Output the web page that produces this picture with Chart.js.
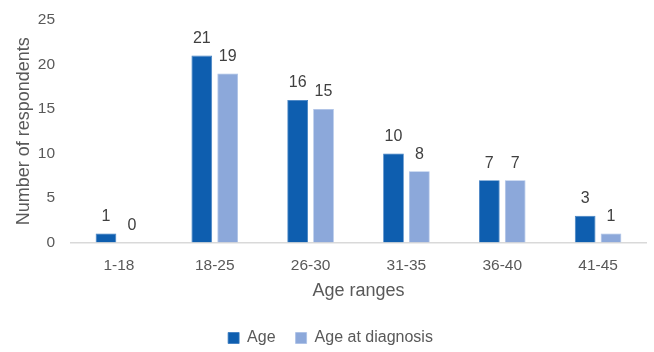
<!DOCTYPE html>
<html>
<head>
<meta charset="utf-8">
<script src="https://cdn.jsdelivr.net/npm/chart.js@4"></script>
<style>
  html, body { margin: 0; padding: 0; background: #fff; }
  #wrap { width: 654px; height: 352px; position: relative; }
</style>
</head>
<body>
<div id="wrap"><canvas id="c" width="654" height="352"></canvas></div>
<script>
const categories = ['1-18', '18-25', '26-30', '31-35', '36-40', '41-45'];
const ageValues = [1, 21, 16, 10, 7, 3];
const diagnosisValues = [0, 19, 15, 8, 7, 1];
const yTicks = [0, 5, 10, 15, 20, 25];

const FONT = "'Liberation Sans', Arial, sans-serif";

// Writes each bar's value just above its top
const valueLabels = {
  id: 'valueLabels',
  afterDatasetsDraw(chart) {
    const ctx = chart.ctx;
    ctx.save();
    ctx.font = '16px ' + FONT;
    ctx.fillStyle = '#404040';
    ctx.textAlign = 'center';
    ctx.textBaseline = 'middle';
    chart.data.datasets.forEach((ds, i) => {
      chart.getDatasetMeta(i).data.forEach((bar, j) => {
        ctx.fillText(String(ds.data[j]), bar.x, bar.y - 17);
      });
    });
    ctx.restore();
  }
};

new Chart(document.getElementById('c'), {
  type: 'bar',
  data: {
    labels: categories,
    datasets: [
      { label: 'Age', data: ageValues, backgroundColor: '#0E5EAF', borderColor: '#3A7BC0', borderWidth: 0.8 },
      { label: 'Age at diagnosis', data: diagnosisValues, backgroundColor: '#8CA8DA', borderColor: '#A9BFE6', borderWidth: 0.8 }
    ]
  },
  options: {
    responsive: false,
    animation: false,
    categoryPercentage: 0.54,
    barPercentage: 0.8,
    layout: { padding: { top: 20, right: 8, left: 15, bottom: -4 } },
    plugins: {
      legend: {
        position: 'bottom',
        labels: {
          font: { family: FONT, size: 16 },
          color: '#595959',
          boxWidth: 11,
          boxHeight: 11,
          padding: 20
        }
      },
      tooltip: { enabled: false }
    },
    scales: {
      x: {
        grid: { display: false, drawTicks: false },
        border: { color: '#D9D9D9', width: 1.5 },
        ticks: { font: { family: FONT, size: 15.5 }, color: '#595959', padding: 14 },
        title: { display: true, text: 'Age ranges', font: { family: FONT, size: 18, lineHeight: 1 }, color: '#595959', padding: { top: -7, bottom: 10 } }
      },
      y: {
        min: 0,
        max: 25,
        afterBuildTicks(axis) { axis.ticks = yTicks.map(v => ({ value: v })); },
        afterFit(axis) { axis.width = 56; axis.paddingTop = 0; },
        grid: { display: false, drawTicks: false },
        border: { display: false },
        ticks: { font: { family: FONT, size: 15.5 }, color: '#595959', padding: 16 },
        title: { display: true, text: 'Number of respondents', font: { family: FONT, size: 18, lineHeight: 1 }, color: '#595959', padding: { top: 0, bottom: 4 } }
      }
    }
  },
  plugins: [valueLabels]
});
</script>
</body>
</html>
